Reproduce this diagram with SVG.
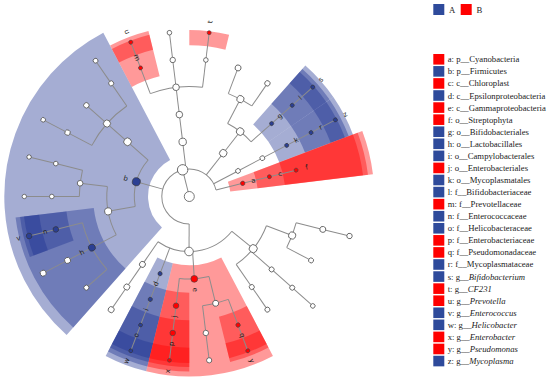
<svg xmlns="http://www.w3.org/2000/svg" width="550" height="381" viewBox="0 0 550 381">
<style>
.w{fill:none;stroke-opacity:0.4}
.wb{stroke:#1e3290}
.wr{stroke:#ff0000}
.ph{stroke-width:143.75}
.cl{stroke-width:111.25}
.or{stroke-width:78.75}
.fa{stroke-width:46.75}
.ge{stroke-width:15.25}
.d1{stroke-dasharray:13.846 400}
.br line,.br circle{stroke:#8c8c8c;stroke-width:1;fill:none}
.nw{fill:#fff;stroke:#555;stroke-width:0.8}
.nb{fill:#2b3f93;stroke:#333;stroke-width:0.6}
.nr{fill:#ff0000;stroke:#444;stroke-width:0.6}
.lb{font-family:"DejaVu Sans",sans-serif;font-size:7px;fill:#222;text-anchor:middle;dominant-baseline:central}
.lg{font-family:"Liberation Serif",serif;font-size:8.7px;fill:#222}
.sb{fill:#2e4a9b}
.sr{fill:#ff0000}
</style>
<rect width="550" height="381" fill="#fff"/>

<g id="highlights" transform="translate(189.3,196.5)">
<!-- blue -->
<circle class="w wb ph" r="113.125" pathLength="360" stroke-dasharray="110.77 400" transform="rotate(131.54)"/>
<circle class="w wb or" r="135.625" pathLength="360" stroke-dasharray="41.54 400" transform="rotate(131.54)"/>
<circle class="w wb fa d1" r="147.125" pathLength="360" transform="rotate(159.23)"/>
<circle class="w wb ge d1" r="158.875" pathLength="360" transform="rotate(159.23)"/>
<circle class="w wb cl d1" r="124.375" pathLength="360" transform="rotate(103.85)"/>
<circle class="w wb or d1" r="135.625" pathLength="360" transform="rotate(103.85)"/>
<circle class="w wb fa d1" r="147.125" pathLength="360" transform="rotate(103.85)"/>
<circle class="w wb ge d1" r="158.875" pathLength="360" transform="rotate(103.85)"/>
<circle class="w wb or d1" r="135.625" pathLength="360" transform="rotate(311.54)"/>
<circle class="w wb fa d1" r="147.125" pathLength="360" transform="rotate(311.54)"/>
<circle class="w wb ge d1" r="158.875" pathLength="360" transform="rotate(311.54)"/>
<circle class="w wb or d1" r="135.625" pathLength="360" transform="rotate(325.38)"/>
<circle class="w wb fa d1" r="147.125" pathLength="360" transform="rotate(325.38)"/>
<circle class="w wb ge d1" r="158.875" pathLength="360" transform="rotate(325.38)"/>
<!-- red -->
<circle class="w wr ph d1" r="113.125" pathLength="360" transform="rotate(339.23)"/>
<circle class="w wr cl d1" r="124.375" pathLength="360" transform="rotate(339.23)"/>
<circle class="w wr or d1" r="135.625" pathLength="360" transform="rotate(339.23)"/>
<circle class="w wr fa d1" r="147.125" pathLength="360" transform="rotate(242.31)"/>
<circle class="w wr ge d1" r="158.875" pathLength="360" transform="rotate(242.31)"/>
<circle class="w wr ge d1" r="158.875" pathLength="360" transform="rotate(270)"/>
<circle class="w wr cl" r="124.375" pathLength="360" stroke-dasharray="41.54 400" transform="rotate(62.31)"/>
<circle class="w wr or d1" r="135.625" pathLength="360" transform="rotate(90)"/>
<circle class="w wr fa d1" r="147.125" pathLength="360" transform="rotate(90)"/>
<circle class="w wr ge d1" r="158.875" pathLength="360" transform="rotate(90)"/>
<circle class="w wr fa d1" r="147.125" pathLength="360" transform="rotate(62.31)"/>
<circle class="w wr ge d1" r="158.875" pathLength="360" transform="rotate(62.31)"/>
</g>

<g id="connectors" class="br" transform="translate(189.3,196.5)">
<line x1="0" x2="27.5" transform="rotate(255.92)"/>
<line x1="27.5" x2="55" transform="rotate(90.29)"/>
<line x1="27.5" x2="55" transform="rotate(195.58)"/>
<line x1="27.5" x2="55" transform="rotate(263.08)"/>
<line x1="27.5" x2="55" transform="rotate(308.08)"/>
<line x1="27.5" x2="55" transform="rotate(332.31)"/>
<line x1="27.5" x2="55" transform="rotate(346.15)"/>
<line x1="55" x2="82.5" transform="rotate(39.23)"/>
<line x1="55" x2="82.5" transform="rotate(86.54)"/>
<line x1="55" x2="82.5" transform="rotate(110.77)"/>
<line x1="55" x2="82.5" transform="rotate(124.62)"/>
<line x1="55" x2="82.5" transform="rotate(169.62)"/>
<line x1="55" x2="82.5" transform="rotate(221.54)"/>
<line x1="55" x2="82.5" transform="rotate(263.08)"/>
<line x1="55" x2="82.5" transform="rotate(308.08)"/>
<line x1="55" x2="82.5" transform="rotate(332.31)"/>
<line x1="55" x2="82.5" transform="rotate(346.15)"/>
<line x1="82.5" x2="110" transform="rotate(20.77)"/>
<line x1="82.5" x2="110" transform="rotate(41.54)"/>
<line x1="82.5" x2="110" transform="rotate(55.38)"/>
<line x1="82.5" x2="110" transform="rotate(76.15)"/>
<line x1="82.5" x2="110" transform="rotate(96.92)"/>
<line x1="82.5" x2="110" transform="rotate(110.77)"/>
<line x1="82.5" x2="110" transform="rotate(124.62)"/>
<line x1="82.5" x2="110" transform="rotate(152.31)"/>
<line x1="82.5" x2="110" transform="rotate(186.92)"/>
<line x1="82.5" x2="110" transform="rotate(221.54)"/>
<line x1="82.5" x2="110" transform="rotate(263.08)"/>
<line x1="82.5" x2="110" transform="rotate(297.69)"/>
<line x1="82.5" x2="110" transform="rotate(318.46)"/>
<line x1="82.5" x2="110" transform="rotate(332.31)"/>
<line x1="82.5" x2="110" transform="rotate(346.15)"/>
<line x1="110" x2="137.5" transform="rotate(13.85)"/>
<line x1="110" x2="137.5" transform="rotate(27.69)"/>
<line x1="110" x2="137.5" transform="rotate(41.54)"/>
<line x1="110" x2="137.5" transform="rotate(55.38)"/>
<line x1="110" x2="137.5" transform="rotate(69.23)"/>
<line x1="110" x2="137.5" transform="rotate(83.08)"/>
<line x1="110" x2="137.5" transform="rotate(96.92)"/>
<line x1="110" x2="137.5" transform="rotate(110.77)"/>
<line x1="110" x2="137.5" transform="rotate(124.62)"/>
<line x1="110" x2="137.5" transform="rotate(138.46)"/>
<line x1="110" x2="137.5" transform="rotate(152.31)"/>
<line x1="110" x2="137.5" transform="rotate(166.15)"/>
<line x1="110" x2="137.5" transform="rotate(180)"/>
<line x1="110" x2="137.5" transform="rotate(193.85)"/>
<line x1="110" x2="137.5" transform="rotate(207.69)"/>
<line x1="110" x2="137.5" transform="rotate(221.54)"/>
<line x1="110" x2="137.5" transform="rotate(235.38)"/>
<line x1="110" x2="137.5" transform="rotate(249.23)"/>
<line x1="110" x2="137.5" transform="rotate(263.08)"/>
<line x1="110" x2="137.5" transform="rotate(276.92)"/>
<line x1="110" x2="137.5" transform="rotate(290.77)"/>
<line x1="110" x2="137.5" transform="rotate(304.62)"/>
<line x1="110" x2="137.5" transform="rotate(318.46)"/>
<line x1="110" x2="137.5" transform="rotate(332.31)"/>
<line x1="137.5" x2="165" transform="rotate(13.85)"/>
<line x1="137.5" x2="165" transform="rotate(41.54)"/>
<line x1="137.5" x2="165" transform="rotate(69.23)"/>
<line x1="137.5" x2="165" transform="rotate(83.08)"/>
<line x1="137.5" x2="165" transform="rotate(96.92)"/>
<line x1="137.5" x2="165" transform="rotate(110.77)"/>
<line x1="137.5" x2="165" transform="rotate(152.31)"/>
<line x1="137.5" x2="165" transform="rotate(166.15)"/>
<line x1="137.5" x2="165" transform="rotate(180)"/>
<line x1="137.5" x2="165" transform="rotate(193.85)"/>
<line x1="137.5" x2="165" transform="rotate(207.69)"/>
<line x1="137.5" x2="165" transform="rotate(235.38)"/>
<line x1="137.5" x2="165" transform="rotate(249.23)"/>
<line x1="137.5" x2="165" transform="rotate(263.08)"/>
<line x1="137.5" x2="165" transform="rotate(276.92)"/>
<line x1="137.5" x2="165" transform="rotate(318.46)"/>
<line x1="137.5" x2="165" transform="rotate(332.31)"/>
<circle r="27.5" pathLength="360" stroke-dasharray="255.86 400" transform="rotate(90.29)"/>
<circle r="55" pathLength="360" stroke-dasharray="85.39 400" transform="rotate(39.23)"/>
<circle r="55" pathLength="360" stroke-dasharray="51.92 400" transform="rotate(169.62)"/>
<circle r="82.5" pathLength="360" stroke-dasharray="34.61 400" transform="rotate(20.77)"/>
<circle r="82.5" pathLength="360" stroke-dasharray="20.77 400" transform="rotate(76.15)"/>
<circle r="82.5" pathLength="360" stroke-dasharray="34.61 400" transform="rotate(152.31)"/>
<circle r="82.5" pathLength="360" stroke-dasharray="20.77 400" transform="rotate(297.69)"/>
<circle r="110" pathLength="360" stroke-dasharray="13.84 400" transform="rotate(13.85)"/>
<circle r="110" pathLength="360" stroke-dasharray="13.85 400" transform="rotate(69.23)"/>
<circle r="110" pathLength="360" stroke-dasharray="27.69 400" transform="rotate(138.46)"/>
<circle r="110" pathLength="360" stroke-dasharray="13.85 400" transform="rotate(180)"/>
<circle r="110" pathLength="360" stroke-dasharray="27.69 400" transform="rotate(207.69)"/>
<circle r="110" pathLength="360" stroke-dasharray="27.69 400" transform="rotate(249.23)"/>
<circle r="110" pathLength="360" stroke-dasharray="13.85 400" transform="rotate(290.77)"/>
</g>

<g id="nodes" transform="translate(189.3,196.5)">
<g id="n-root"><circle class="nw" r="5"/></g>
<g id="n-bacteria" transform="rotate(255.92)"><circle class="nw" cx="27.5" r="5.2"/></g>
<g id="n-proteobacteria" transform="rotate(90.29)"><circle class="nw" cx="55" r="4.3"/></g>
<g id="n-p1" transform="rotate(39.23)"><circle class="nw" cx="82.5" r="4"/></g>
<g id="n-p1o1" transform="rotate(20.77)"><circle class="nw" cx="110" r="3.5"/></g>
<g id="n-p1f1" transform="rotate(13.85)"><circle class="nw" cx="137.5" r="3"/><circle class="nw" cx="165" r="2.7"/></g>
<g id="n-p1f2" transform="rotate(27.69)"><circle class="nw" cx="137.5" r="2.5"/></g>
<g id="n-p1o2" transform="rotate(41.54)"><circle class="nw" cx="110" r="2.5"/><circle class="nw" cx="137.5" r="2.5"/><circle class="nw" cx="165" r="2.3"/></g>
<g id="n-p1o3" transform="rotate(55.38)"><circle class="nw" cx="110" r="2.5"/><circle class="nw" cx="137.5" r="2.5"/></g>
<g id="n-e" transform="rotate(86.54)"><circle class="nr" cx="82.5" r="3.4"/><text class="lb" transform="translate(93.5,0)">e</text></g>
<g id="n-pseudomonadales" transform="rotate(76.15)"><circle class="nw" cx="110" r="3"/></g>
<g id="n-q" transform="rotate(69.23)"><circle class="nr" cx="137.5" r="2.2"/><text class="lb" transform="translate(148.5,0)">q</text></g>
<g id="n-y" transform="rotate(69.23)"><circle class="nr" cx="165" r="2"/><text class="lb" transform="translate(176,0)">y</text></g>
<g id="n-gf6" transform="rotate(83.08)"><circle class="nw" cx="137.5" r="2.7"/><circle class="nw" cx="165" r="2.6"/></g>
<g id="n-j" transform="rotate(96.92)"><circle class="nr" cx="110" r="2.8"/><text class="lb" transform="translate(121,0) rotate(180)">j</text></g>
<g id="n-p" transform="rotate(96.92)"><circle class="nr" cx="137.5" r="2.8"/><text class="lb" transform="translate(148.5,0) rotate(180)">p</text></g>
<g id="n-x" transform="rotate(96.92)"><circle class="nr" cx="165" r="1.9"/><text class="lb" transform="translate(176,0) rotate(180)">x</text></g>
<g id="n-d" transform="rotate(110.77)"><circle class="nb" cx="82.5" r="2.1"/><text class="lb" transform="translate(93.5,0) rotate(180)">d</text></g>
<g id="n-i" transform="rotate(110.77)"><circle class="nb" cx="110" r="2.1"/><text class="lb" transform="translate(121,0) rotate(180)">i</text></g>
<g id="n-o" transform="rotate(110.77)"><circle class="nb" cx="137.5" r="1.9"/><text class="lb" transform="translate(148.5,0) rotate(180)">o</text></g>
<g id="n-w" transform="rotate(110.77)"><circle class="nb" cx="165" r="1.9"/><text class="lb" transform="translate(176,0) rotate(180)">w</text></g>
<g id="n-p4" transform="rotate(124.62)"><circle class="nw" cx="82.5" r="3"/><circle class="nw" cx="110" r="3"/><circle class="nw" cx="137.5" r="3"/></g>
<g id="n-b" transform="rotate(195.58)"><circle class="nb" cx="55" r="4"/><text class="lb" transform="translate(66,0) rotate(180)">b</text></g>
<g id="n-bacilli" transform="rotate(169.62)"><circle class="nw" cx="82.5" r="3.5"/></g>
<g id="n-h" transform="rotate(152.31)"><circle class="nb" cx="110" r="3.5"/><text class="lb" transform="translate(121,0) rotate(180)">h</text></g>
<g id="n-n" transform="rotate(166.15)"><circle class="nb" cx="137.5" r="2.8"/><text class="lb" transform="translate(148.5,0) rotate(180)">n</text></g>
<g id="n-v" transform="rotate(166.15)"><circle class="nb" cx="165" r="2.8"/><text class="lb" transform="translate(176,0) rotate(180)">v</text></g>
<g id="n-hf2" transform="rotate(152.31)"><circle class="nw" cx="137.5" r="3"/><circle class="nw" cx="165" r="3"/></g>
<g id="n-hf3" transform="rotate(138.46)"><circle class="nw" cx="137.5" r="2.5"/></g>
<g id="n-bacillales" transform="rotate(186.92)"><circle class="nw" cx="110" r="2.8"/></g>
<g id="n-bf1" transform="rotate(180)"><circle class="nw" cx="137.5" r="2.3"/><circle class="nw" cx="165" r="2.2"/></g>
<g id="n-bf2" transform="rotate(193.85)"><circle class="nw" cx="137.5" r="2.3"/><circle class="nw" cx="165" r="2.2"/></g>
<g id="n-clostridia" transform="rotate(221.54)"><circle class="nw" cx="82.5" r="3.8"/><circle class="nw" cx="110" r="3.5"/><circle class="nw" cx="137.5" r="2.7"/></g>
<g id="n-cf1" transform="rotate(207.69)"><circle class="nw" cx="137.5" r="2.7"/><circle class="nw" cx="165" r="2.3"/></g>
<g id="n-cf3" transform="rotate(235.38)"><circle class="nw" cx="137.5" r="2.5"/><circle class="nw" cx="165" r="2.4"/></g>
<g id="n-bacteroidetes" transform="rotate(263.08)"><circle class="nw" cx="55" r="3.7"/><circle class="nw" cx="82.5" r="3.3"/><circle class="nw" cx="110" r="3.3"/><circle class="nw" cx="137.5" r="2.7"/><circle class="nw" cx="165" r="2.3"/></g>
<g id="n-m" transform="rotate(249.23)"><circle class="nr" cx="137.5" r="2"/><text class="lb" transform="translate(148.5,0) rotate(180)">m</text></g>
<g id="n-u" transform="rotate(249.23)"><circle class="nr" cx="165" r="2"/><text class="lb" transform="translate(176,0) rotate(180)">u</text></g>
<g id="n-bdf3" transform="rotate(276.92)"><circle class="nw" cx="137.5" r="2.3"/></g>
<g id="n-t" transform="rotate(276.92)"><circle class="nr" cx="165" r="2"/><text class="lb" transform="translate(176,0)">t</text></g>
<g id="n-actinobacteria" transform="rotate(308.08)"><circle class="nw" cx="55" r="3.7"/><circle class="nw" cx="82.5" r="3.8"/></g>
<g id="n-ao" transform="rotate(297.69)"><circle class="nw" cx="110" r="3.6"/></g>
<g id="n-af1" transform="rotate(290.77)"><circle class="nw" cx="137.5" r="3"/></g>
<g id="n-af2" transform="rotate(304.62)"><circle class="nw" cx="137.5" r="2.7"/></g>
<g id="n-g" transform="rotate(318.46)"><circle class="nb" cx="110" r="2"/><text class="lb" transform="translate(121,0)">g</text></g>
<g id="n-l" transform="rotate(318.46)"><circle class="nb" cx="137.5" r="2"/><text class="lb" transform="translate(148.5,0)">l</text></g>
<g id="n-s" transform="rotate(318.46)"><circle class="nb" cx="165" r="2"/><text class="lb" transform="translate(176,0)">s</text></g>
<g id="n-tenericutes" transform="rotate(332.31)"><circle class="nw" cx="55" r="2.4"/><circle class="nw" cx="82.5" r="2.4"/></g>
<g id="n-k" transform="rotate(332.31)"><circle class="nb" cx="110" r="2"/><text class="lb" transform="translate(121,0)">k</text></g>
<g id="n-r" transform="rotate(332.31)"><circle class="nb" cx="137.5" r="2"/><text class="lb" transform="translate(148.5,0)">r</text></g>
<g id="n-z" transform="rotate(332.31)"><circle class="nb" cx="165" r="2"/><text class="lb" transform="translate(176,0)">z</text></g>
<g id="n-a" transform="rotate(346.15)"><circle class="nr" cx="55" r="2.2"/><text class="lb" transform="translate(66,0)">a</text></g>
<g id="n-c" transform="rotate(346.15)"><circle class="nr" cx="82.5" r="2"/><text class="lb" transform="translate(93.5,0)">c</text></g>
<g id="n-f" transform="rotate(346.15)"><circle class="nr" cx="110" r="2"/><text class="lb" transform="translate(121,0)">f</text></g>
</g>

<g id="legend-groups">
<rect class="sb" x="433.3" y="4" width="11" height="11"/>
<text class="lg" x="449" y="13">A</text>
<rect class="sr" x="460.7" y="4" width="11" height="11"/>
<text class="lg" x="476.5" y="13">B</text>
</g>

<g id="legend">
<rect class="sr" x="433.3" y="54" width="11" height="10.6"/><text class="lg" x="447.7" y="62.3">a: p__Cyanobacteria</text>
<rect class="sb" x="433.3" y="66.07" width="11" height="10.6"/><text class="lg" x="447.7" y="74.37">b: p__Firmicutes</text>
<rect class="sr" x="433.3" y="78.14" width="11" height="10.6"/><text class="lg" x="447.7" y="86.44">c: c__Chloroplast</text>
<rect class="sb" x="433.3" y="90.21" width="11" height="10.6"/><text class="lg" x="447.7" y="98.51">d: c__Epsilonproteobacteria</text>
<rect class="sr" x="433.3" y="102.28" width="11" height="10.6"/><text class="lg" x="447.7" y="110.58">e: c__Gammaproteobacteria</text>
<rect class="sr" x="433.3" y="114.35" width="11" height="10.6"/><text class="lg" x="447.7" y="122.65">f: o__Streptophyta</text>
<rect class="sb" x="433.3" y="126.42" width="11" height="10.6"/><text class="lg" x="447.7" y="134.72">g: o__Bifidobacteriales</text>
<rect class="sb" x="433.3" y="138.49" width="11" height="10.6"/><text class="lg" x="447.7" y="146.79">h: o__Lactobacillales</text>
<rect class="sb" x="433.3" y="150.56" width="11" height="10.6"/><text class="lg" x="447.7" y="158.86">i: o__Campylobacterales</text>
<rect class="sr" x="433.3" y="162.63" width="11" height="10.6"/><text class="lg" x="447.7" y="170.93">j: o__Enterobacteriales</text>
<rect class="sb" x="433.3" y="174.7" width="11" height="10.6"/><text class="lg" x="447.7" y="183">k: o__Mycoplasmatales</text>
<rect class="sb" x="433.3" y="186.77" width="11" height="10.6"/><text class="lg" x="447.7" y="195.07">l: f__Bifidobacteriaceae</text>
<rect class="sr" x="433.3" y="198.84" width="11" height="10.6"/><text class="lg" x="447.7" y="207.14">m: f__Prevotellaceae</text>
<rect class="sb" x="433.3" y="210.91" width="11" height="10.6"/><text class="lg" x="447.7" y="219.21">n: f__Enterococcaceae</text>
<rect class="sb" x="433.3" y="222.98" width="11" height="10.6"/><text class="lg" x="447.7" y="231.28">o: f__Helicobacteraceae</text>
<rect class="sr" x="433.3" y="235.05" width="11" height="10.6"/><text class="lg" x="447.7" y="243.35">p: f__Enterobacteriaceae</text>
<rect class="sr" x="433.3" y="247.12" width="11" height="10.6"/><text class="lg" x="447.7" y="255.42">q: f__Pseudomonadaceae</text>
<rect class="sb" x="433.3" y="259.19" width="11" height="10.6"/><text class="lg" x="447.7" y="267.49">r: f__Mycoplasmataceae</text>
<rect class="sb" x="433.3" y="271.26" width="11" height="10.6"/><text class="lg" x="447.7" y="279.56">s: g__<tspan font-style="italic">Bifidobacterium</tspan></text>
<rect class="sr" x="433.3" y="283.33" width="11" height="10.6"/><text class="lg" x="447.7" y="291.63">t: g__<tspan font-style="italic">CF231</tspan></text>
<rect class="sr" x="433.3" y="295.4" width="11" height="10.6"/><text class="lg" x="447.7" y="303.7">u: g__<tspan font-style="italic">Prevotella</tspan></text>
<rect class="sb" x="433.3" y="307.47" width="11" height="10.6"/><text class="lg" x="447.7" y="315.77">v: g__<tspan font-style="italic">Enterococcus</tspan></text>
<rect class="sb" x="433.3" y="319.54" width="11" height="10.6"/><text class="lg" x="447.7" y="327.84">w: g__<tspan font-style="italic">Helicobacter</tspan></text>
<rect class="sr" x="433.3" y="331.61" width="11" height="10.6"/><text class="lg" x="447.7" y="339.91">x: g__<tspan font-style="italic">Enterobacter</tspan></text>
<rect class="sr" x="433.3" y="343.68" width="11" height="10.6"/><text class="lg" x="447.7" y="351.98">y: g__<tspan font-style="italic">Pseudomonas</tspan></text>
<rect class="sb" x="433.3" y="355.75" width="11" height="10.6"/><text class="lg" x="447.7" y="364.05">z: g__<tspan font-style="italic">Mycoplasma</tspan></text>
</g>
</svg>
